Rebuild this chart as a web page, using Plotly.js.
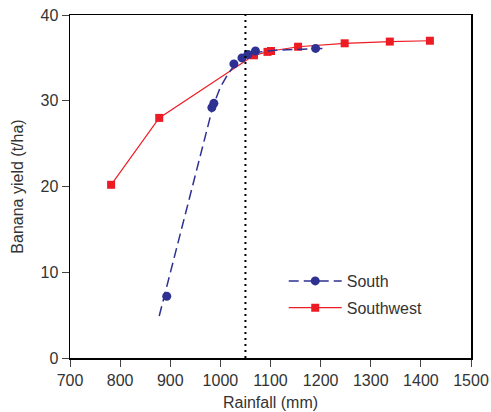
<!DOCTYPE html>
<html>
<head>
<meta charset="utf-8">
<script src="https://cdn.plot.ly/plotly-3.0.1.min.js"></script>
<style>html,body{margin:0;padding:0;background:#fff;}#chart{width:491px;height:412px;}</style>
</head>
<body>
<div id="chart"></div>
<script>
// South observations
var southX = [893, 983, 987, 1027, 1043, 1055, 1070, 1190];
var southY = [7.2, 29.2, 29.7, 34.3, 35.0, 35.4, 35.8, 36.1];
// South fitted response curve (dashed)
var southFitX = [878, 985, 1000, 1015, 1030, 1045, 1060, 1080, 1110, 1150, 1206];
var southFitY = [4.9, 29.3, 31.6, 33.1, 34.3, 35.0, 35.4, 35.7, 35.9, 36.0, 36.1];
// Southwest observations
var southwestX = [782, 878, 1067, 1094, 1101, 1155, 1248, 1338, 1418];
var southwestY = [20.2, 28.0, 35.3, 35.7, 35.8, 36.3, 36.7, 36.9, 37.0];
// Threshold rainfall (dotted line)
var thresholdX = 1050;
var xTicks = [700, 800, 900, 1000, 1100, 1200, 1300, 1400, 1500];
var yTicks = [0, 10, 20, 30, 40];

var blue = '#2e3192';
var red = '#ed1c24';
var font = 'Liberation Sans, Arial, sans-serif';

var traces = [
  {x: southwestX, y: southwestY, mode: 'lines+markers', name: 'Southwest', showlegend: false,
   line: {color: red, width: 1.2}, marker: {symbol: 'square', size: 8, color: red}},
  {x: southFitX, y: southFitY, mode: 'lines', showlegend: false, hoverinfo: 'skip',
   line: {color: blue, width: 1.5, dash: '10px,5px'}},
  {x: southX, y: southY, mode: 'markers', name: 'South', showlegend: false,
   marker: {symbol: 'circle', size: 9, color: blue}},
  {x: [null], y: [null], mode: 'lines+markers', name: 'South', legendgroup: 'a',
   line: {color: blue, width: 1.5, dash: '10px,5px'}, marker: {symbol: 'circle', size: 9, color: blue}},
  {x: [null], y: [null], mode: 'lines+markers', name: 'Southwest', legendgroup: 'b',
   line: {color: red, width: 1.2}, marker: {symbol: 'square', size: 8, color: red}}
];

var layout = {
  width: 491, height: 412,
  margin: {l: 70, r: 20, t: 15, b: 54},
  paper_bgcolor: '#fff', plot_bgcolor: '#fff',
  font: {family: font, size: 16, color: '#333'},
  showlegend: true,
  legend: {x: 0.533, y: 0.274, xanchor: 'left', yanchor: 'top', bgcolor: 'rgba(0,0,0,0)',
           font: {size: 16, color: '#333'}, itemwidth: 53, traceorder: 'grouped', tracegroupgap: 3},
  xaxis: {range: [700, 1500], tickvals: xTicks, ticks: 'outside', ticklen: 7, tickwidth: 1,
          showline: true, mirror: true, linecolor: '#000', linewidth: 1.5, showgrid: false, zeroline: false,
          tickfont: {size: 16}, title: {text: 'Rainfall (mm)', font: {size: 16}, standoff: 9}, automargin: false},
  yaxis: {range: [0, 40], tickvals: yTicks, ticks: 'outside', ticklen: 7, tickwidth: 1,
          showline: true, mirror: true, linecolor: '#000', linewidth: 1.5, showgrid: false, zeroline: false,
          tickfont: {size: 16}, title: {text: 'Banana yield (t/ha)', font: {size: 16}, standoff: 13}, automargin: false},
  shapes: [{type: 'line', xref: 'x', yref: 'y', x0: thresholdX, x1: thresholdX, y0: 0, y1: 40,
            line: {color: '#000', width: 2, dash: '2px,4px'}}]
};

Plotly.newPlot('chart', traces, layout, {displayModeBar: false, staticPlot: true});
</script>
</body>
</html>
